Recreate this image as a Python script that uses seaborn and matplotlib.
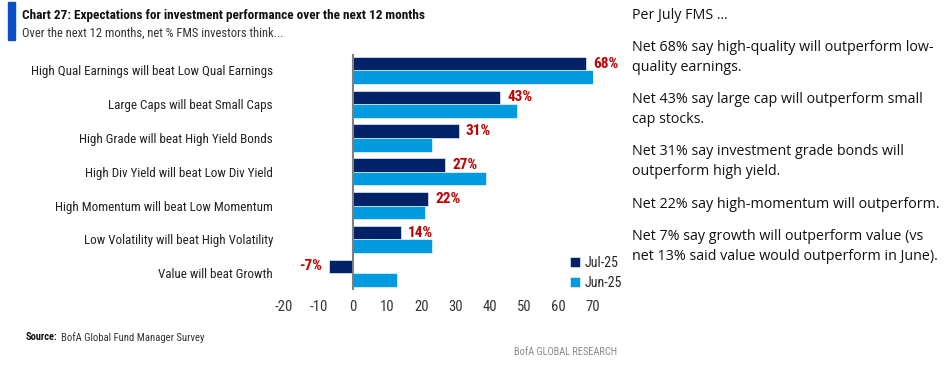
import matplotlib
matplotlib.use("Agg")
import matplotlib.pyplot as plt
from matplotlib import font_manager
from matplotlib.patches import Rectangle
import seaborn as sns
import pandas as pd

categories = [
    "High Qual Earnings will beat Low Qual Earnings",
    "Large Caps will beat Small Caps",
    "High Grade will beat High Yield Bonds",
    "High Div Yield will beat Low Div Yield",
    "High Momentum will beat Low Momentum",
    "Low Volatility will beat High Volatility",
    "Value will beat Growth",
]
jul_25 = [68, 43, 31, 27, 22, 14, -7]
jun_25 = [70, 48, 23, 39, 21, 23, 13]
series_names = ["Jul-25", "Jun-25"]
x_ticks = [-20, -10, 0, 10, 20, 30, 40, 50, 60, 70]

right_lines = [
    ("Per July FMS ...", 15.7),
    ("Net 68% say high-quality will outperform low-", 47.7),
    ("quality earnings.", 67.3),
    ("Net 43% say large cap will outperform small", 99.3),
    ("cap stocks.", 119.3),
    ("Net 31% say investment grade bonds will", 151.7),
    ("outperform high yield.", 171.7),
    ("Net 22% say high-momentum will outperform.", 204.0),
    ("Net 7% say growth will outperform value (vs", 236.7),
    ("net 13% said value would outperform in June).", 256.7),
]

available = {f.name for f in font_manager.fontManager.ttflist}
def pick(*names):
    for n in names:
        if n in available:
            return n
    return "DejaVu Sans"

narrow = pick("Liberation Sans Narrow", "DejaVu Sans Condensed", "Roboto Condensed", "Liberation Sans")
body = pick("Open Sans", "Noto Sans", "DejaVu Sans")

sns.set_theme(style="white")
plt.rcParams["font.family"] = [narrow, "DejaVu Sans"]

NAVY = "#012169"
LIGHT = "#009ADE"
RED = "#C00000"

df = pd.DataFrame({
    "category": categories * 2,
    "value": jul_25 + jun_25,
    "series": [series_names[0]] * len(categories) + [series_names[1]] * len(categories),
})

W, H = 953, 367
fig = plt.figure(figsize=(W / 100, H / 100), dpi=100)
ax_left = 284.1 / W
ax_right = 592.7 / W
ax_top = 1 - 53.5 / H
ax_bot = 1 - 290.1 / H
ax = fig.add_axes([ax_left, ax_bot, ax_right - ax_left, ax_top - ax_bot])

sns.barplot(data=df, y="category", x="value", hue="series", orient="h",
            palette=[NAVY, LIGHT], ax=ax, width=0.8, saturation=1,
            edgecolor="white", linewidth=0.4)

ax.set_xlim(-20, 70)
ax.set_ylim(len(categories) - 0.5, -0.5)
ax.set_xticks(x_ticks)
ax.set_xticklabels([str(t) for t in x_ticks], fontsize=10.5, color="#333333")
ax.tick_params(axis="x", length=0, pad=7)
ax.set_yticklabels(categories, fontsize=9.4, color="#222222")
ax.tick_params(axis="y", length=0, pad=8)
ax.set_xlabel("")
ax.set_ylabel("")
for s in ax.spines.values():
    s.set_visible(False)
ax.axvline(0, color="#7f7f7f", lw=1.5, zorder=5)

ax.bar_label(ax.containers[0], fmt="%d%%", padding=5, color=RED,
             fontsize=11, fontweight="bold", clip_on=False)

leg = ax.legend(frameon=False, loc="upper left",
                bbox_to_anchor=(564 / W, 1 - 250 / H), bbox_transform=fig.transFigure,
                fontsize=10, handlelength=0.75, handleheight=0.75,
                handletextpad=0.3, labelspacing=0.45, borderaxespad=0)

# header
fig.add_artist(Rectangle((8 / W, 1 - 40 / H), 6.5 / W, 38 / H,
                         transform=fig.transFigure, color="#0A4FC4"))
fig.text(22 / W, 1 - 15.5 / H, "Chart 27: Expectations for investment performance over the next 12 months",
         fontsize=9.5, fontweight="bold", color="#111111", va="center", ha="left")
fig.text(22 / W, 1 - 33 / H, "Over the next 12 months, net % FMS investors think...",
         fontsize=9.0, color="#333333", va="center", ha="left")

# footer
fig.text(26 / W, 1 - 337.5 / H, "Source:", fontsize=7.5, fontweight="bold",
         color="#111111", va="center", ha="left")
fig.text(61 / W, 1 - 337.5 / H, "BofA Global Fund Manager Survey", fontsize=7.7,
         color="#333333", va="center", ha="left")
fig.text(617 / W, 1 - 352 / H, "BofA GLOBAL RESEARCH", fontsize=7.5,
         color="#888888", va="center", ha="right")

for txt, y in right_lines:
    fig.text(631.5 / W, 1 - y / H, txt, fontsize=10.3, color="#111111",
             va="center", ha="left", family=[body, "DejaVu Sans"])

fig.savefig("out.png", dpi=100)
